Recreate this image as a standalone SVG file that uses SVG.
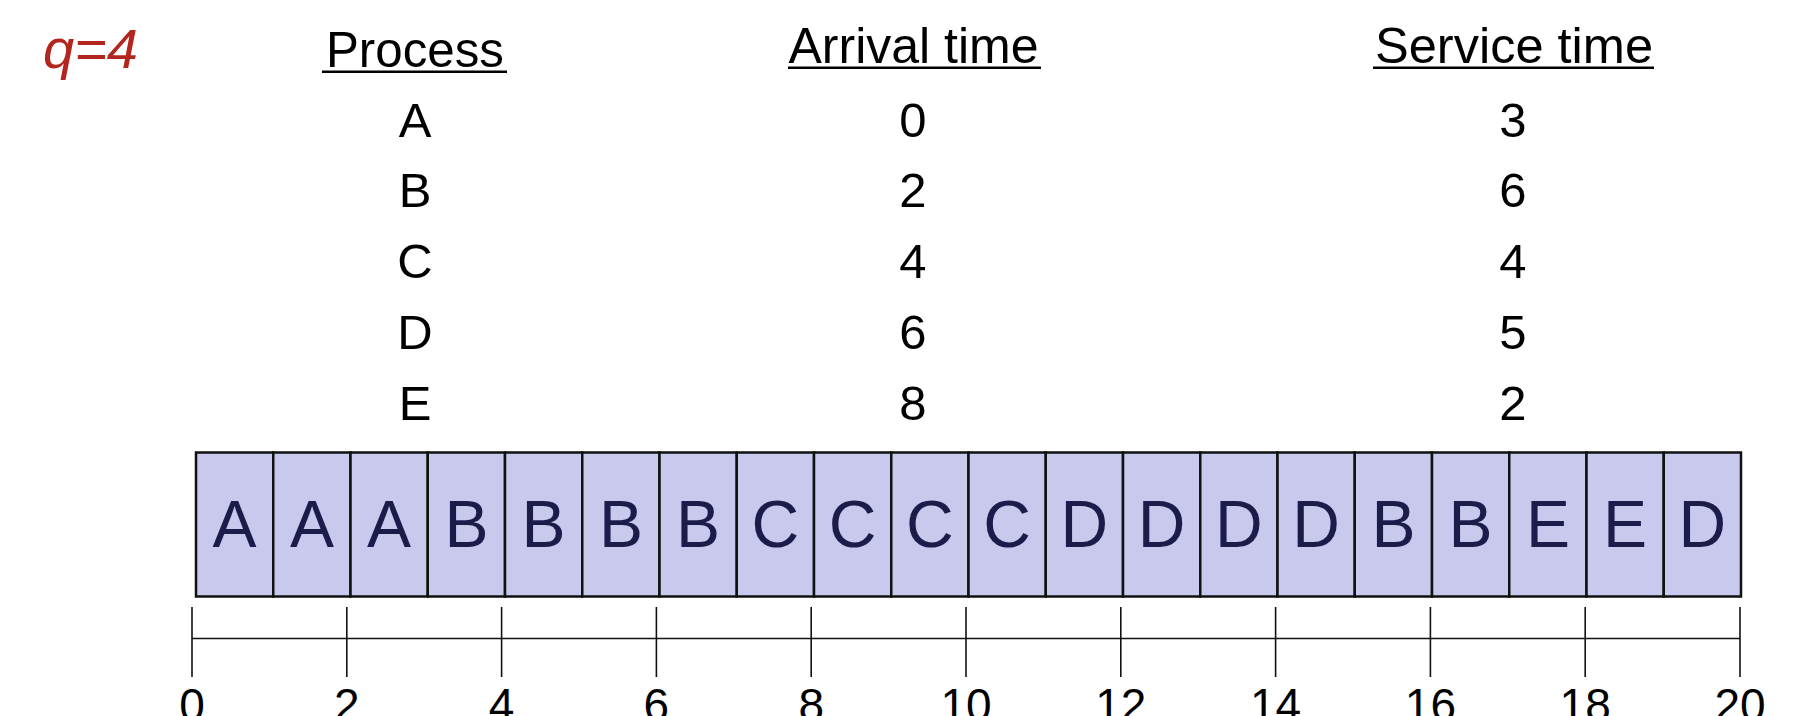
<svg xmlns="http://www.w3.org/2000/svg" width="1820" height="716" viewBox="0 0 1820 716">
<style>
.t{font-family:"Liberation Sans",Arial,sans-serif;fill:#000;text-anchor:middle}
.h{font-size:50px}
.r{font-size:49px}
.cell{fill:#c8c9ed;stroke:#111;stroke-width:2.5}
.cl{font-family:"Liberation Sans",Arial,sans-serif;font-size:66px;fill:#1c1c4a;text-anchor:middle}
.ax{stroke:#111;stroke-width:1.6;fill:none}
.tl{font-family:"Liberation Sans",Arial,sans-serif;font-size:46px;fill:#000;text-anchor:middle}
</style>
<rect width="1820" height="716" fill="#fff"/>
<g id="quantum">
<text x="43" y="68" font-family="Liberation Sans, Arial, sans-serif" font-size="56" font-style="italic" fill="#b3261e">q=4</text>
</g>
<g id="table">
<g id="col-process">
<text class="t h" x="415" y="67" textLength="178" lengthAdjust="spacingAndGlyphs">Process</text>
<rect x="322" y="70.5" width="185" height="2.5" fill="#000"/>
<text class="t r" x="415" y="137">A</text>
<text class="t r" x="415" y="207">B</text>
<text class="t r" x="415" y="278">C</text>
<text class="t r" x="415" y="349">D</text>
<text class="t r" x="415" y="420">E</text>
</g>
<g id="col-arrival">
<text class="t h" x="913.5" y="63" textLength="250" lengthAdjust="spacingAndGlyphs">Arrival time</text>
<rect x="788" y="66.5" width="253" height="2.5" fill="#000"/>
<text class="t r" x="913" y="137">0</text>
<text class="t r" x="913" y="207">2</text>
<text class="t r" x="913" y="278">4</text>
<text class="t r" x="913" y="349">6</text>
<text class="t r" x="913" y="420">8</text>
</g>
<g id="col-service">
<text class="t h" x="1514" y="63" textLength="278" lengthAdjust="spacingAndGlyphs">Service time</text>
<rect x="1373" y="66.5" width="281" height="2.5" fill="#000"/>
<text class="t r" x="1513" y="137">3</text>
<text class="t r" x="1513" y="207">6</text>
<text class="t r" x="1513" y="278">4</text>
<text class="t r" x="1513" y="349">5</text>
<text class="t r" x="1513" y="420">2</text>
</g>
</g>
<g id="gantt">
<g id="c0"><rect class="cell" x="196" y="452.5" width="77.25" height="144"/><text class="cl" x="234.6" y="547">A</text></g>
<g id="c1"><rect class="cell" x="273.25" y="452.5" width="77.25" height="144"/><text class="cl" x="311.9" y="547">A</text></g>
<g id="c2"><rect class="cell" x="350.5" y="452.5" width="77.25" height="144"/><text class="cl" x="389.1" y="547">A</text></g>
<g id="c3"><rect class="cell" x="427.75" y="452.5" width="77.25" height="144"/><text class="cl" x="466.4" y="547">B</text></g>
<g id="c4"><rect class="cell" x="505" y="452.5" width="77.25" height="144"/><text class="cl" x="543.6" y="547">B</text></g>
<g id="c5"><rect class="cell" x="582.25" y="452.5" width="77.25" height="144"/><text class="cl" x="620.9" y="547">B</text></g>
<g id="c6"><rect class="cell" x="659.5" y="452.5" width="77.25" height="144"/><text class="cl" x="698.1" y="547">B</text></g>
<g id="c7"><rect class="cell" x="736.75" y="452.5" width="77.25" height="144"/><text class="cl" x="775.4" y="547">C</text></g>
<g id="c8"><rect class="cell" x="814" y="452.5" width="77.25" height="144"/><text class="cl" x="852.6" y="547">C</text></g>
<g id="c9"><rect class="cell" x="891.25" y="452.5" width="77.25" height="144"/><text class="cl" x="929.9" y="547">C</text></g>
<g id="c10"><rect class="cell" x="968.5" y="452.5" width="77.25" height="144"/><text class="cl" x="1007.1" y="547">C</text></g>
<g id="c11"><rect class="cell" x="1045.75" y="452.5" width="77.25" height="144"/><text class="cl" x="1084.4" y="547">D</text></g>
<g id="c12"><rect class="cell" x="1123" y="452.5" width="77.25" height="144"/><text class="cl" x="1161.6" y="547">D</text></g>
<g id="c13"><rect class="cell" x="1200.25" y="452.5" width="77.25" height="144"/><text class="cl" x="1238.9" y="547">D</text></g>
<g id="c14"><rect class="cell" x="1277.5" y="452.5" width="77.25" height="144"/><text class="cl" x="1316.1" y="547">D</text></g>
<g id="c15"><rect class="cell" x="1354.75" y="452.5" width="77.25" height="144"/><text class="cl" x="1393.4" y="547">B</text></g>
<g id="c16"><rect class="cell" x="1432" y="452.5" width="77.25" height="144"/><text class="cl" x="1470.6" y="547">B</text></g>
<g id="c17"><rect class="cell" x="1509.25" y="452.5" width="77.25" height="144"/><text class="cl" x="1547.9" y="547">E</text></g>
<g id="c18"><rect class="cell" x="1586.5" y="452.5" width="77.25" height="144"/><text class="cl" x="1625.1" y="547">E</text></g>
<g id="c19"><rect class="cell" x="1663.75" y="452.5" width="77.25" height="144"/><text class="cl" x="1702.4" y="547">D</text></g>
</g>
<g id="axis">
<line class="ax" x1="192" y1="638.5" x2="1740" y2="638.5"/>
<line class="ax" x1="192" y1="607" x2="192" y2="677"/>
<line class="ax" x1="346.8" y1="607" x2="346.8" y2="677"/>
<line class="ax" x1="501.6" y1="607" x2="501.6" y2="677"/>
<line class="ax" x1="656.4" y1="607" x2="656.4" y2="677"/>
<line class="ax" x1="811.2" y1="607" x2="811.2" y2="677"/>
<line class="ax" x1="966" y1="607" x2="966" y2="677"/>
<line class="ax" x1="1120.8" y1="607" x2="1120.8" y2="677"/>
<line class="ax" x1="1275.6" y1="607" x2="1275.6" y2="677"/>
<line class="ax" x1="1430.4" y1="607" x2="1430.4" y2="677"/>
<line class="ax" x1="1585.2" y1="607" x2="1585.2" y2="677"/>
<line class="ax" x1="1740" y1="607" x2="1740" y2="677"/>
<text class="tl" x="192" y="721">0</text>
<text class="tl" x="346.8" y="721">2</text>
<text class="tl" x="501.6" y="721">4</text>
<text class="tl" x="656.4" y="721">6</text>
<text class="tl" x="811.2" y="721">8</text>
<text class="tl" x="966" y="721">10</text>
<text class="tl" x="1120.8" y="721">12</text>
<text class="tl" x="1275.6" y="721">14</text>
<text class="tl" x="1430.4" y="721">16</text>
<text class="tl" x="1585.2" y="721">18</text>
<text class="tl" x="1740" y="721">20</text>
</g>
</svg>
